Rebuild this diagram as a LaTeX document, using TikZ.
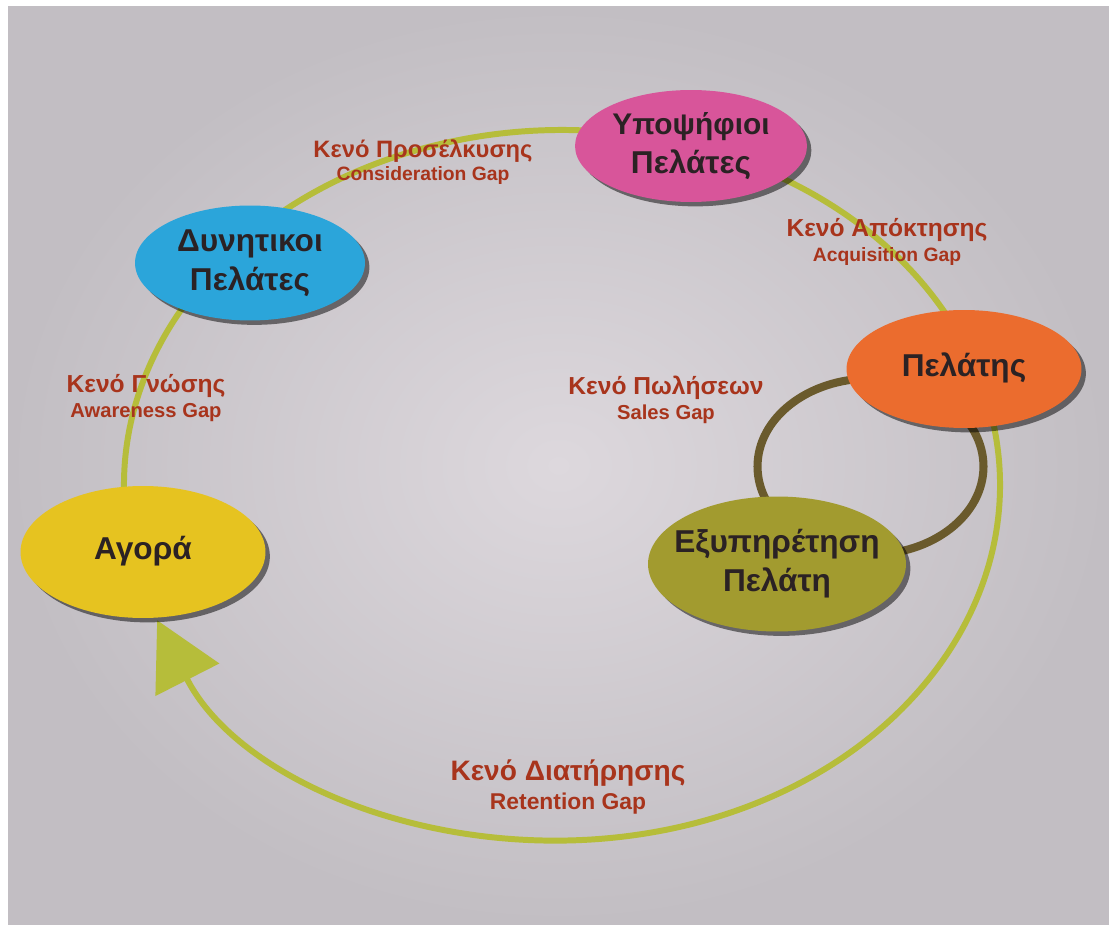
\documentclass[tikz,border=0pt]{standalone}
\usepackage{fontspec}
\setmainfont{Liberation Sans}
\usepackage{tikz}
\usetikzlibrary{shapes.geometric, arrows.meta, positioning, shadows, calc, backgrounds}

\definecolor{paperlight}{HTML}{DDD8DD}
\definecolor{paperdark}{HTML}{C2BEC3}
\definecolor{ringgreen}{HTML}{B6BD3A}
\definecolor{loopbrown}{HTML}{6A5A2C}
\definecolor{gapred}{HTML}{A8341C}
\definecolor{inkdark}{HTML}{2B2224}
\definecolor{agoraYellow}{HTML}{E6C320}
\definecolor{dynBlue}{HTML}{2BA5DA}
\definecolor{ypoPink}{HTML}{D8559A}
\definecolor{pelOrange}{HTML}{EB6C2E}
\definecolor{exyOlive}{HTML}{A29B2F}

\newcommand{\stagelines}[1]{\makebox[0pt]{\begin{tabular}{@{}c@{}}#1\end{tabular}}}
\newcommand{\gapsub}[1]{{\fontsize{11.5}{12}\selectfont #1}}

\tikzstyle{stage} = [ellipse, draw=none, inner sep=0pt, text=inkdark, font=\bfseries\fontsize{18}{22}\selectfont, drop shadow={shadow xshift=2.5pt, shadow yshift=-2.5pt, fill=black, opacity=0.5}]
\tikzstyle{gap} = [align=center, text=gapred, font=\bfseries\fontsize{14}{14}\selectfont]
\tikzstyle{ring} = [line width=3.4pt, draw=ringgreen]
\tikzstyle{loop} = [line width=4.6pt, draw=loopbrown]

\begin{document}
\begin{tikzpicture}[x=0.02cm, y=0.02cm]
        % paper
        \begin{pgfonlayer}{background}
            \fill[white] (0,0) rectangle (1109,924);
            \shade[inner color=paperlight, outer color=paperdark] (8,0) rectangle (1109,917);
        \end{pgfonlayer}

        % big cycle
        \coordinate (ringc) at (562,439);
        \draw[ring, -{Triangle[length=38pt, width=40pt]}] ([shift={(ringc)}]199:8.76cm and 7.1cm) arc[start angle=199, end angle=-157.6, x radius=8.76cm, y radius=7.1cm];

        % stages
        \node[stage, fill=agoraYellow, minimum width=4.9cm, minimum height=2.64cm] (agora) at (143,372) {\stagelines{Αγορά}};
        \node[stage, fill=dynBlue, minimum width=4.6cm, minimum height=2.3cm] (dynitikoi) at (250,661) {\stagelines{Δυνητικοι\\Πελάτες}};
        \node[stage, fill=ypoPink, minimum width=4.64cm, minimum height=2.24cm] (ypopsifioi) at (691,778) {\stagelines{{\fontsize{17}{21}\selectfont Υποψήφιοι}\\Πελάτες}};
        \node[stage, fill=pelOrange, minimum width=4.7cm, minimum height=2.36cm] (pelatis) at (964,555) {\stagelines{Πελάτης}};
        \node[stage, fill=exyOlive, minimum width=5.16cm, minimum height=2.7cm] (exyp) at (777,360) {\stagelines{Εξυπηρέτηση\\Πελάτη}};

        % sales loop
        \begin{pgfonlayer}{background}
            \draw[loop] ($(pelatis)!0.5!(exyp)$) ellipse[x radius=2.26cm, y radius=1.76cm];
        \end{pgfonlayer}

        % gaps
        \node[gap] (awareGap) at (146,526) {Κενό Γνώσης\\\gapsub{Awareness Gap}};
        \node[gap, font=\bfseries\fontsize{13.5}{13.5}\selectfont] (considGap) at (423,762) {Κενό Προσέλκυσης\\{\fontsize{11}{12}\selectfont Consideration Gap}};
        \node[gap] (acquisGap) at (887,682) {Κενό Απόκτησης\\{\fontsize{11}{12}\selectfont Acquisition Gap}};
        \node[gap] (salesGap) at (666,524) {Κενό Πωλήσεων\\\gapsub{Sales Gap}};
        \node[gap, font=\bfseries\fontsize{16}{17}\selectfont] (retentGap) at (568,137) {Κενό Διατήρησης\\{\fontsize{13}{14}\selectfont Retention Gap}};
\end{tikzpicture}
\end{document}
